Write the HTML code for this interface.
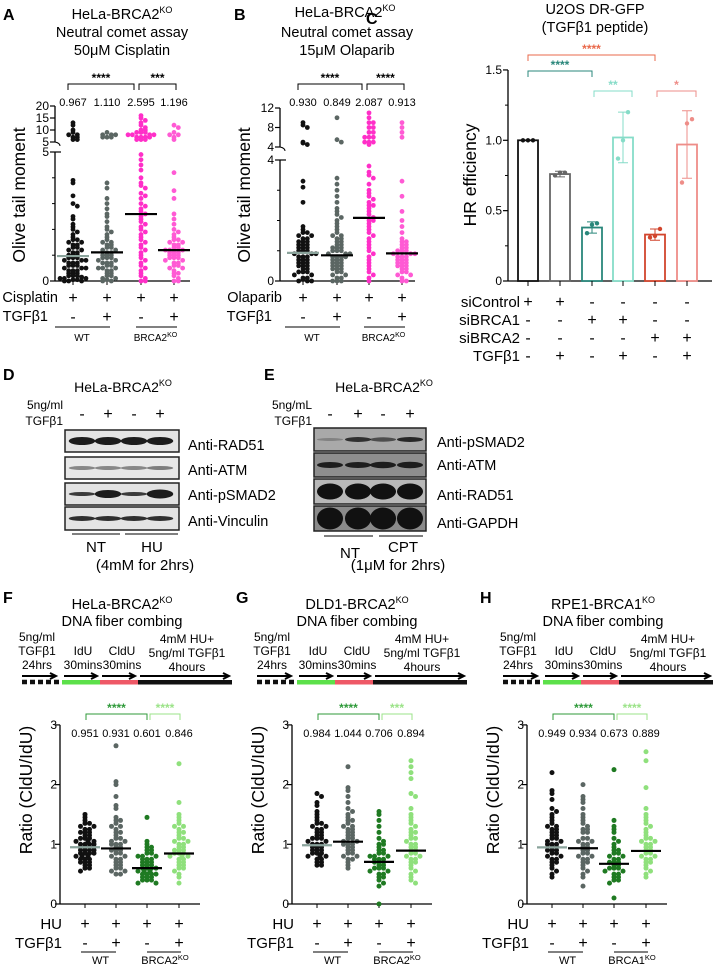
<!DOCTYPE html>
<html><head><meta charset="utf-8"><style>
html,body{margin:0;padding:0;background:#fff;}
svg{display:block;font-family:"Liberation Sans",Arial,sans-serif;}
</style></head><body>
<svg id="fig" width="715" height="968" viewBox="0 0 715 968" xmlns="http://www.w3.org/2000/svg">
<g font-weight="bold" font-size="16">
<text x="3" y="20">A</text>
<text x="234" y="20">B</text>
<text x="366" y="24">C</text>
<text x="3" y="380">D</text>
<text x="264" y="380">E</text>
<text x="3" y="603">F</text>
<text x="236" y="603">G</text>
<text x="480" y="603">H</text>
</g>
<g font-size="14.5" text-anchor="middle">
<text x="122" y="19">HeLa-BRCA2<tspan font-size="9" dy="-6">KO</tspan></text>
<text x="122" y="37">Neutral comet assay</text>
<text x="122" y="55">50μM Cisplatin</text>
<text x="345" y="17">HeLa-BRCA2<tspan font-size="9" dy="-6">KO</tspan></text>
<text x="347" y="37">Neutral comet assay</text>
<text x="347" y="55">15μM Olaparib</text>
<text x="595" y="14">U2OS DR-GFP</text>
<text x="595" y="32">(TGFβ1 peptide)</text>
<text x="122" y="609">HeLa-BRCA2<tspan font-size="9" dy="-6">KO</tspan></text>
<text x="122" y="626">DNA fiber combing</text>
<text x="357" y="609">DLD1-BRCA2<tspan font-size="9" dy="-6">KO</tspan></text>
<text x="357" y="626">DNA fiber combing</text>
<text x="603" y="609">RPE1-BRCA1<tspan font-size="9" dy="-6">KO</tspan></text>
<text x="603" y="626">DNA fiber combing</text>
</g>

<!-- Panel D blots -->
<g>
<text x="123" y="392" font-size="14" text-anchor="middle">HeLa-BRCA2<tspan font-size="9" dy="-6">KO</tspan></text>
<text x="63" y="409" font-size="12" text-anchor="end">5ng/ml</text>
<text x="63" y="425" font-size="12" text-anchor="end">TGFβ1</text>
<g font-size="16" text-anchor="middle">
<text x="82" y="419">-</text>
<text x="108" y="419">+</text>
<text x="134" y="419">-</text>
<text x="160" y="419">+</text>
</g>
<g id="blotD"></g>
<g font-size="14.5">
<text x="188" y="450">Anti-RAD51</text>
<text x="188" y="475">Anti-ATM</text>
<text x="188" y="500">Anti-pSMAD2</text>
<text x="188" y="526">Anti-Vinculin</text>
</g>
<line x1="72" y1="534" x2="120" y2="534" stroke="#000" stroke-width="1"/>
<line x1="125" y1="534" x2="178" y2="534" stroke="#000" stroke-width="1"/>
<text x="96" y="552" font-size="15" text-anchor="middle">NT</text>
<text x="152" y="552" font-size="15" text-anchor="middle">HU</text>
<text x="145" y="570" font-size="15" text-anchor="middle">(4mM for 2hrs)</text>
</g>

<!-- Panel E blots -->
<g>
<text x="384" y="392" font-size="14" text-anchor="middle">HeLa-BRCA2<tspan font-size="9" dy="-6">KO</tspan></text>
<text x="312" y="409" font-size="12" text-anchor="end">5ng/mL</text>
<text x="312" y="425" font-size="12" text-anchor="end">TGFβ1</text>
<g font-size="16" text-anchor="middle">
<text x="330" y="419">-</text>
<text x="358" y="419">+</text>
<text x="383" y="419">-</text>
<text x="410" y="419">+</text>
</g>
<g id="blotE"></g>
<g font-size="14.5">
<text x="437" y="447">Anti-pSMAD2</text>
<text x="437" y="470">Anti-ATM</text>
<text x="437" y="500">Anti-RAD51</text>
<text x="437" y="528">Anti-GAPDH</text>
</g>
<line x1="324" y1="536" x2="373" y2="536" stroke="#000" stroke-width="1"/>
<line x1="379" y1="536" x2="423" y2="536" stroke="#000" stroke-width="1"/>
<text x="350" y="558" font-size="15" text-anchor="middle">NT</text>
<text x="403" y="552" font-size="15" text-anchor="middle">CPT</text>
<text x="398" y="570" font-size="15" text-anchor="middle">(1μM for 2hrs)</text>
</g>

<g id="charts"></g>
</svg>
<script>
// ---------- DATA ----------
// Panel A (olive tail moment, cisplatin)
const aCategories = ["WT", "WT+TGFβ1", "BRCA2KO", "BRCA2KO+TGFβ1"];
const aMeans = [0.967, 1.110, 2.595, 1.196];
const aMeanLabels = ["0.967", "1.110", "2.595", "1.196"];
const aWT = [13,12,10,9,8,8,7,7,6,6,3.9,3.8,3.3,3.0,2.9,2.5,2.4,2.2,2.1,2.0,1.9,1.8,1.7,1.6,1.6,1.5,1.5,1.4,1.4,1.3,1.3,1.2,1.2,1.1,1.1,1.0,1.0,1.0,0.9,0.9,0.9,0.8,0.8,0.8,0.7,0.7,0.7,0.6,0.6,0.6,0.5,0.5,0.5,0.4,0.4,0.4,0.3,0.3,0.3,0.2,0.2,0.2,0.15,0.1,0.1,0.1,0.05,0.05,0,0,0];
const aWTT = [9,8,8,8,7,7,7,3.8,3.6,3.2,3.0,2.8,2.6,2.5,2.3,2.1,2.0,1.9,1.8,1.7,1.6,1.5,1.5,1.4,1.4,1.3,1.3,1.2,1.2,1.1,1.1,1.0,1.0,1.0,0.9,0.9,0.9,0.8,0.8,0.7,0.7,0.7,0.6,0.6,0.5,0.5,0.5,0.4,0.4,0.3,0.3,0.2,0.2,0.1,0.1,0.05,0,0];
const aKO = [16,15,14,13,12,11,10,10,9,9,9,8,8,8,8,7,7,7,7,6,6,6,4.9,4.7,4.5,4.3,4.0,3.8,3.7,3.6,3.4,3.3,3.2,3.0,2.9,2.8,2.7,2.6,2.5,2.4,2.3,2.2,2.1,2.0,1.9,1.8,1.7,1.6,1.5,1.4,1.3,1.2,1.1,1.0,0.9,0.8,0.7,0.6,0.5,0.4,0.3,0.2,0.1,0,0];
const aKOT = [12,11,9,8,8,7,6,4.2,3.5,3.2,2.6,2.4,2.2,2.0,1.9,1.8,1.7,1.6,1.6,1.5,1.5,1.4,1.4,1.3,1.3,1.2,1.2,1.2,1.1,1.1,1.1,1.0,1.0,1.0,0.9,0.9,0.9,0.8,0.8,0.7,0.7,0.6,0.6,0.5,0.5,0.4,0.3,0.3,0.2,0.1,0,0];
const aLowerTicks = [0, 5];
const aUpperTicks = [5, 10, 15, 20];
// Panel B (olive tail moment, olaparib)
const bMeans = [0.930, 0.849, 2.087, 0.913];
const bMeanLabels = ["0.930", "0.849", "2.087", "0.913"];
const bWT = [9,8.5,8,5,4.8,4.5,3.3,3.1,2.6,1.8,1.7,1.6,1.6,1.5,1.5,1.4,1.4,1.3,1.3,1.3,1.2,1.2,1.2,1.1,1.1,1.1,1.0,1.0,1.0,0.9,0.9,0.9,0.8,0.8,0.8,0.7,0.7,0.7,0.6,0.6,0.6,0.5,0.5,0.5,0.4,0.4,0.3,0.3,0.3,0.2,0.2,0.1,0.1,0.05,0,0,0];
const bWTT = [10,5.5,5,3.4,3.2,3.0,2.8,2.6,2.4,2.3,2.2,2.1,2.0,1.9,1.8,1.7,1.6,1.5,1.5,1.4,1.4,1.3,1.3,1.2,1.2,1.1,1.1,1.1,1.0,1.0,1.0,0.9,0.9,0.9,0.8,0.8,0.8,0.8,0.7,0.7,0.7,0.6,0.6,0.6,0.5,0.5,0.5,0.4,0.4,0.4,0.3,0.3,0.2,0.2,0.1,0.1,0,0,0];
const bKO = [11,10,9,9,8,8,7,7,6,6,6,5,5,5,4.5,3.8,3.6,3.5,3.4,3.2,3.0,2.9,2.8,2.7,2.6,2.5,2.5,2.4,2.3,2.2,2.1,2.0,2.0,1.9,1.8,1.7,1.6,1.5,1.4,1.3,1.2,1.1,1.0,0.9,0.8,0.7,0.6,0.5,0.4,0.3,0.2,0.1,0];
const bKOT = [9,8,7,6,3.3,2.8,2.3,2.0,1.8,1.6,1.4,1.3,1.3,1.2,1.2,1.1,1.1,1.0,1.0,1.0,0.9,0.9,0.9,0.8,0.8,0.8,0.7,0.7,0.7,0.6,0.6,0.6,0.5,0.5,0.5,0.4,0.4,0.3,0.3,0.2,0.2,0.1,0,0];
const bLowerTicks = [0, 4];
const bUpperTicks = [4, 8, 12];
// Panel C (HR efficiency)
const cMeans = [1.0, 0.76, 0.38, 1.02, 0.33, 0.97];
const cSD = [0.0, 0.02, 0.04, 0.18, 0.04, 0.24];
const cPoints = [[1,1,1],[0.75,0.77,0.77],[0.34,0.40,0.41],[0.87,1.0,1.2],[0.31,0.32,0.37],[0.70,1.12,1.15]];
const cTicks = [0, 0.5, 1.0, 1.5];
const cTickLabels = ["0", "0.5", "1.0", "1.5"];
const cRowLabels = ["siControl", "siBRCA1", "siBRCA2", "TGFβ1"];
const cRowSigns = [["+","+","-","-","-","-"],["-","-","+","+","-","-"],["-","-","-","-","+","+"],["-","+","-","+","-","+"]];
// Panels F, G, H (CldU/IdU ratio)
const fMeans = [0.951, 0.931, 0.601, 0.846];
const fMeanLabels = ["0.951", "0.931", "0.601", "0.846"];
const f1 = [1.5,1.45,1.4,1.35,1.35,1.3,1.3,1.25,1.25,1.2,1.2,1.2,1.15,1.15,1.1,1.1,1.1,1.05,1.05,1.05,1.0,1.0,1.0,1.0,0.95,0.95,0.95,0.95,0.9,0.9,0.9,0.9,0.85,0.85,0.85,0.85,0.8,0.8,0.8,0.75,0.75,0.75,0.7,0.7,0.7,0.65,0.65,0.6,0.6,0.55];
const f2 = [2.65,2.05,2.0,1.8,1.65,1.6,1.45,1.4,1.4,1.35,1.3,1.3,1.25,1.2,1.2,1.15,1.1,1.1,1.05,1.05,1.0,1.0,1.0,0.95,0.95,0.9,0.9,0.9,0.85,0.85,0.8,0.8,0.75,0.75,0.7,0.7,0.65,0.65,0.6,0.6,0.55,0.55,0.5,0.5];
const f3 = [1.45,1.05,1.0,0.95,0.95,0.9,0.9,0.85,0.85,0.8,0.8,0.8,0.75,0.75,0.75,0.7,0.7,0.7,0.65,0.65,0.65,0.6,0.6,0.6,0.6,0.55,0.55,0.55,0.5,0.5,0.5,0.5,0.45,0.45,0.45,0.4,0.4,0.4,0.35,0.35];
const f4 = [2.35,1.7,1.5,1.45,1.4,1.35,1.3,1.3,1.25,1.2,1.2,1.15,1.1,1.1,1.05,1.05,1.0,1.0,0.95,0.95,0.9,0.9,0.9,0.85,0.85,0.85,0.8,0.8,0.8,0.75,0.75,0.7,0.7,0.65,0.65,0.6,0.6,0.55,0.5,0.45,0.35];
const gMeans = [0.984, 1.044, 0.706, 0.894];
const gMeanLabels = ["0.984", "1.044", "0.706", "0.894"];
const g1 = [1.85,1.8,1.7,1.65,1.55,1.5,1.45,1.4,1.35,1.35,1.3,1.3,1.25,1.25,1.2,1.2,1.15,1.15,1.1,1.1,1.1,1.05,1.05,1.0,1.0,1.0,0.95,0.95,0.95,0.9,0.9,0.9,0.85,0.85,0.85,0.8,0.8,0.8,0.75,0.75,0.7,0.7,0.65,0.65];
const g2 = [2.3,1.95,1.9,1.8,1.7,1.6,1.55,1.5,1.45,1.4,1.4,1.35,1.3,1.3,1.25,1.25,1.2,1.2,1.15,1.15,1.1,1.1,1.05,1.05,1.0,1.0,1.0,0.95,0.95,0.9,0.9,0.85,0.85,0.8,0.8,0.75,0.75,0.7,0.65,0.6];
const g3 = [1.55,1.5,1.4,1.3,1.2,1.1,1.05,1.0,1.0,0.95,0.9,0.9,0.85,0.85,0.8,0.8,0.8,0.75,0.75,0.75,0.7,0.7,0.7,0.65,0.65,0.6,0.6,0.6,0.55,0.55,0.5,0.5,0.45,0.45,0.4,0.35,0.3,0.0];
const g4 = [2.4,2.3,2.2,2.1,1.85,1.8,1.6,1.5,1.45,1.4,1.35,1.3,1.25,1.2,1.2,1.15,1.1,1.1,1.05,1.0,1.0,0.95,0.95,0.9,0.9,0.85,0.85,0.8,0.8,0.75,0.75,0.7,0.7,0.65,0.6,0.55,0.5,0.45,0.4,0.35];
const hMeans = [0.949, 0.934, 0.673, 0.889];
const hMeanLabels = ["0.949", "0.934", "0.673", "0.889"];
const h1 = [2.2,1.9,1.85,1.75,1.6,1.55,1.5,1.45,1.4,1.35,1.3,1.3,1.25,1.25,1.2,1.2,1.15,1.15,1.1,1.1,1.05,1.05,1.0,1.0,1.0,0.95,0.95,0.9,0.9,0.9,0.85,0.85,0.8,0.8,0.75,0.75,0.7,0.7,0.65,0.6,0.55,0.5,0.45];
const h2 = [2.0,1.8,1.75,1.7,1.6,1.5,1.45,1.4,1.35,1.3,1.25,1.25,1.2,1.2,1.1,1.1,1.05,1.05,1.0,1.0,0.95,0.95,0.9,0.9,0.85,0.85,0.8,0.8,0.75,0.75,0.7,0.7,0.65,0.6,0.55,0.5,0.45,0.3];
const h3 = [2.25,1.4,1.3,1.25,1.2,1.1,1.05,1.0,0.95,0.9,0.9,0.85,0.85,0.8,0.8,0.75,0.75,0.7,0.7,0.7,0.65,0.65,0.6,0.6,0.6,0.55,0.55,0.5,0.5,0.45,0.45,0.4,0.4,0.35,0.1];
const h4 = [2.55,2.4,1.95,1.6,1.5,1.45,1.4,1.35,1.3,1.25,1.2,1.15,1.1,1.1,1.05,1.05,1.0,1.0,0.95,0.95,0.9,0.9,0.85,0.85,0.8,0.8,0.75,0.75,0.7,0.7,0.65,0.6,0.55,0.5,0.45];
const fiberTicks = [0, 1, 2, 3];

// ---------- DRAWING ----------
const NS = "http://www.w3.org/2000/svg";
const root = document.getElementById("charts");
function mk(tag, attrs, parent) {
  const e = document.createElementNS(NS, tag);
  for (const k in attrs) e.setAttribute(k, attrs[k]);
  (parent || root).appendChild(e);
  return e;
}
function txt(x, y, s, size, anchor, parent, fill) {
  const t = mk("text", {x: x, y: y, "font-size": size, "text-anchor": anchor || "middle", fill: fill || "#000"}, parent);
  t.textContent = s;
  return t;
}
function line(x1, y1, x2, y2, stroke, w, parent) {
  return mk("line", {x1: x1, y1: y1, x2: x2, y2: y2, stroke: stroke || "#000", "stroke-width": w || 1}, parent);
}
function swarm(vals, cx, yfn, half, r, color, parent) {
  const bins = {};
  vals.forEach(v => {
    const y = yfn(v);
    const b = Math.round(y / (r * 1.5));
    const k = bins[b] || 0;
    bins[b] = k + 1;
    let off = k === 0 ? 0 : Math.ceil(k / 2) * r * 1.8 * (k % 2 ? 1 : -1);
    if (Math.abs(off) > half) off = Math.sign(off) * ((Math.abs(off) % half) + r);
    const c = mk("circle", {cx: cx + off, cy: y, r: r, fill: color}, parent);
    
    
  });
}
function bracket(x1, x2, y, stars, color, parent) {
  const p = mk("path", {d: `M${x1},${y + 6}V${y}H${x2}V${y + 6}`, fill: "none", stroke: color, "stroke-width": 1}, parent);
  
  
  const t = txt((x1 + x2) / 2, y - 2, stars, 12, "middle", parent, color);
  t.setAttribute('font-weight', 'bold');
  
  
}

// ---- comet panels A,B ----
function comet(cfg) {
  const g = mk("g", {});
  
  
  const yfn = v => v <= cfg.brk ? cfg.y0 - v * cfg.lowK : cfg.uBase - (v - cfg.brk) * cfg.upK;
  const ax1 = line(cfg.ax, cfg.y0, cfg.ax, yfn(cfg.brk), "#000", 1.3, g);
  
  
  const ax2 = line(cfg.ax, cfg.uBase, cfg.ax, yfn(cfg.upperTicks[cfg.upperTicks.length - 1]), "#000", 1.3, g);
  
  
  const xa = line(cfg.ax, cfg.y0, cfg.ax + 135, cfg.y0, "#000", 1.3, g);
  
  
  for (let v = 1; v < cfg.brk; v++) { const m = line(cfg.ax - 3, yfn(v), cfg.ax, yfn(v), "#000", 1, g);   }
  cfg.lowerTicks.forEach(v => {
    const tk = line(cfg.ax - 5, yfn(v), cfg.ax + (v === cfg.brk ? 6 : 0), yfn(v), "#000", 1.2, g);
    
    
    const tl = txt(cfg.ax - 6, yfn(v) + 4, String(v), 12, "end", g);
    
    
  });
  cfg.upperTicks.forEach((v, i) => {
    const y = i === 0 ? cfg.uBase : yfn(v);
    const tk = line(cfg.ax - 5, y, cfg.ax, y, "#000", 1.2, g);
    
    
    const tl = txt(cfg.ax - 6, y + 4, String(v), 12, "end", g);
    
    
  });
  const bk = mk("path", {d: `M${cfg.ax},${cfg.uBase}q5,1 5,4`, stroke: "#000", fill: "none"}, g);
  
  
  const yt = txt(0, 0, "Olive tail moment", 17.5, "middle", g);
  yt.setAttribute("transform", `translate(${cfg.ax - 30},195) rotate(-90)`);
  
  
  cfg.series.forEach((s, i) => {
    const x = cfg.xs[i];
    const tk = line(x, cfg.y0, x, cfg.y0 + 4, "#000", 1, g);
    
    
    swarm(s, x, yfn, 14, 2.4, cfg.colors[i], g);
    const ml = line(x - 16, yfn(cfg.means[i]), x + 16, yfn(cfg.means[i]), i === 0 ? "#8aa39b" : "#000", 2.2, g);
    
    
    const lb = txt(x, 106, cfg.meanLabels[i], 11, "middle", g);
    
    
    const s1 = txt(x, 303, "+", 16, "middle", g);
    
    
    const s2 = txt(x, 322, i % 2 ? "+" : "-", 16, "middle", g);
    
    
  });
  const r1 = txt(cfg.labelEnd, 302, cfg.drug, 14.5, "end", g);
  
  
  const r2 = txt(cfg.labelEnd - 10, 321, "TGFβ1", 14.5, "end", g);
  
  
  const l1 = line(cfg.xs[0] - 18, 327, cfg.xs[1] + 3, 327, "#000", 1, g);
  
  
  const l2 = line(cfg.xs[2] - 5, 327, cfg.xs[3] + 3, 327, "#000", 1, g);
  
  
  const w = txt((cfg.xs[0] + cfg.xs[1]) / 2 - 8, 341, "WT", 10, "middle", g);
  
  
  const k = txt((cfg.xs[2] + cfg.xs[3]) / 2 - 2, 341, "BRCA2", 10, "middle", g);
  const ks = mk("tspan", {"font-size": 7, dy: -4}, k); ks.textContent = "KO";
  
  
  bracket(cfg.xs[0] - 5, cfg.xs[2] - 7, 84, "****", "#000", g);
  bracket(cfg.xs[2] - 2, cfg.xs[3] + 2, 84, cfg.star2, "#000", g);
}
comet({name: "panel-a-comet-cisplatin", ax: 55, y0: 281, brk: 5, lowK: 25.8, uBase: 142, upK: 2.4,
  lowerTicks: aLowerTicks, upperTicks: aUpperTicks, xs: [73, 107, 141, 174],
  series: [aWT, aWTT, aKO, aKOT], means: aMeans, meanLabels: aMeanLabels,
  colors: ["#111", "#5b6663", "#ff2fc8", "#ff5ad4"], drug: "Cisplatin", star2: "***", labelEnd: 58});
comet({name: "panel-b-comet-olaparib", ax: 280, y0: 281, brk: 4, lowK: 30.25, uBase: 147, upK: 4.875,
  lowerTicks: bLowerTicks, upperTicks: bUpperTicks, xs: [303, 337, 369, 402],
  series: [bWT, bWTT, bKO, bKOT], means: bMeans, meanLabels: bMeanLabels,
  colors: ["#111", "#5b6663", "#ff2fc8", "#ff5ad4"], drug: "Olaparib", star2: "****", labelEnd: 282});

// ---- panel C ----
(function () {
  const g = mk("g", {});
  
  
  const ax = 508, y0 = 281, k = 140.7;
  const yfn = v => y0 - v * k;
  const xs = [528, 560, 592, 623, 655, 687];
  const cols = ["#111", "#666", "#2a877b", "#86dcc8", "#d2452d", "#ee8d88"];
  const a1 = line(ax, y0, ax, yfn(1.5), "#000", 1.3, g);
  
  
  const a2 = line(ax, y0, 712, y0, "#000", 1.3, g);
  
  
  for (let v = 0.25; v < 1.5; v += 0.5) { const m = line(ax - 3, yfn(v), ax, yfn(v), "#000", 1, g);   }
  cTicks.forEach((v, i) => {
    const t = line(ax - 5, yfn(v), ax, yfn(v), "#000", 1.2, g);
    
    
    const l = txt(ax - 6, yfn(v) + 4, cTickLabels[i], 12, "end", g);
    
    
  });
  const yt = txt(0, 0, "HR efficiency", 17.5, "middle", g);
  yt.setAttribute("transform", "translate(476,175) rotate(-90)");
  
  
  cMeans.forEach((m, i) => {
    const x = xs[i];
    const b = mk("rect", {x: x - 10, y: yfn(m), width: 20, height: y0 - yfn(m), fill: "#fff", stroke: cols[i], "stroke-width": 1.8}, g);
    
    
    const tk = line(x, y0, x, y0 + 5, "#000", 1, g);
    
    
    if (cSD[i] > 0) {
      const e = mk("path", {d: `M${x - 5},${yfn(m + cSD[i])}H${x + 5}M${x},${yfn(m + cSD[i])}V${yfn(m - cSD[i])}M${x - 5},${yfn(m - cSD[i])}H${x + 5}`, stroke: cols[i], fill: "none", "stroke-width": 1}, g);
      
      
    }
    cPoints[i].forEach((p, j) => {
      const c = mk("circle", {cx: x + (j - 1) * 5, cy: yfn(p), r: 2.2, fill: cols[i]}, g);
      
      
    });
  });
  cRowLabels.forEach((lab, r) => {
    const y = 307 + r * 18;
    const t = txt(520, y, lab, 15, "end", g);
    
    
    cRowSigns[r].forEach((s, i) => {
      const st = txt(xs[i], y, s, 16, "middle", g);
      
      
    });
  });
  bracket(xs[0], xs[4], 55, "****", "#e9694b", g);
  bracket(xs[0], xs[2], 71, "****", "#2a877b", g);
  bracket(xs[2] + 2, xs[3] + 9, 91, "**", "#86dcc8", g);
  bracket(xs[4] + 2, xs[5] + 9, 91, "*", "#ee8d88", g);
})();

// ---- Blots ----
function blot(id, x0, x1, rows, lanes) {
  const g = document.getElementById(id);
  rows.forEach(r => {
    const bx = mk("rect", {x: x0, y: r.y, width: x1 - x0, height: r.h, fill: r.bg, stroke: "#222", "stroke-width": 1.5}, g);
    
    
    lanes.forEach((lx, i) => {
      const bh = r.bands[i];
      const e = mk("ellipse", {cx: lx, cy: r.y + r.h / 2, rx: (x1 - x0) / 8.6, ry: bh, fill: "#111", opacity: r.op[i]}, g);
      
      
    });
  });
}
blot("blotD", 65, 179, [
  {y: 430, h: 22, bg: "#e4e4e4", bands: [4, 4, 4, 4], op: [0.95, 0.95, 0.95, 0.95]},
  {y: 457, h: 22, bg: "#e8e8e8", bands: [2, 2, 2, 2], op: [0.45, 0.45, 0.45, 0.5]},
  {y: 483, h: 22, bg: "#e2e2e2", bands: [2, 4, 2, 4.5], op: [0.8, 0.95, 0.8, 0.95]},
  {y: 507, h: 23, bg: "#e4e4e4", bands: [2.5, 2.5, 2.5, 2.5], op: [0.85, 0.85, 0.85, 0.85]}
], [82, 108, 134, 160]);
blot("blotE", 314, 426, [
  {y: 428, h: 23, bg: "#a9a9a9", bands: [1.5, 2.5, 2.2, 2.5], op: [0.25, 0.8, 0.6, 0.85]},
  {y: 453, h: 24, bg: "#8e8e8e", bands: [3, 3, 3.2, 3.2], op: [0.9, 0.9, 0.9, 0.9]},
  {y: 479, h: 25, bg: "#b8b8b8", bands: [8, 8, 8, 8], op: [1, 1, 1, 1]},
  {y: 506, h: 25, bg: "#8a8a8a", bands: [11, 11, 11, 11], op: [1, 1, 1, 1]}
], [330, 358, 383, 410]);

// ---- Fiber panels ----
function fiber(cfg) {
  const g = mk("g", {});
  
  
  const d = cfg.dx, p = cfg.px;
  const txts = [[37, 641, "5ng/ml"], [37, 655, "TGFβ1"], [37, 669, "24hrs"], [83, 655, "IdU"], [83, 669, "30mins"],
    [122, 655, "CldU"], [122, 669, "30mins"], [187, 643, "4mM HU+"], [187, 657, "5ng/ml TGFβ1"], [187, 671, "4hours"]];
  txts.forEach(t => { const e = txt(t[0] + d, t[1], t[2], 12, "middle", g);   });
  const segs = [[62, 100, "#5ce04a"], [100, 138, "#ee5866"], [138, 232, "#111"]];
  segs.forEach(s => { const r = mk("rect", {x: s[0] + d, y: 680, width: s[1] - s[0], height: 4.5, fill: s[2]}, g);   });
  const dot = line(22 + d, 682, 60 + d, 682, "#111", 4.5, g);
  dot.setAttribute('stroke-dasharray', '5 3');
  
  
  [[22, 56], [64, 97], [102, 135], [140, 229]].forEach(a => {
    const ar = mk("path", {d: `M${a[0] + d},676H${a[1] + d}M${a[1] - 6 + d},673L${a[1] + d},676L${a[1] - 6 + d},679`, stroke: "#000", "stroke-width": 2, fill: "none"}, g);
    
    
  });
  const ax = 60 + p, y0 = 904, k = 59.7;
  const yfn = v => y0 - v * k;
  const xs = [85 + p, 116 + p, 147 + p, 179 + p];
  const a1 = line(ax, y0, ax, yfn(3), "#000", 1.3, g);
  
  
  const a2 = line(ax, y0, ax + 140, y0, "#000", 1.3, g);
  
  
  fiberTicks.forEach(v => {
    const t = line(ax - 5, yfn(v), ax, yfn(v), "#000", 1.2, g);
    
    
    const l = txt(ax - 3, yfn(v) + 4, String(v), 12, "end", g);
    
    
  });
  const yt = txt(0, 0, "Ratio (CldU/IdU)", 17.5, "middle", g);
  yt.setAttribute("transform", `translate(${ax - 28},790) rotate(-90)`);
  
  
  cfg.series.forEach((s, i) => {
    const x = xs[i];
    const tk = line(x, y0, x, y0 + 4, "#000", 1, g);
    
    
    swarm(s, x, yfn, 13, 2.5, cfg.colors[i], g);
    const ml = line(x - 15, yfn(cfg.means[i]), x + 15, yfn(cfg.means[i]), i === 0 ? "#8aa39b" : "#000", 2.2, g);
    
    
    const lb = txt(x, 737, cfg.meanLabels[i], 11, "middle", g);
    
    
    const s1 = txt(x, 929, "+", 16, "middle", g);
    
    
    const s2 = txt(x, 948, i % 2 ? "+" : "-", 16, "middle", g);
    
    
  });
  const r1 = txt(ax + 2, 929, "HU", 15, "end", g);
  
  
  const r2 = txt(ax + 2, 948, "TGFβ1", 15, "end", g);
  
  
  const l1 = line(xs[0] - 4, 952, xs[1], 952, "#000", 1, g);
  
  
  const l2 = line(xs[2], 952, xs[3] + 2, 952, "#000", 1, g);
  
  
  const w = txt((xs[0] + xs[1]) / 2, 964, "WT", 11, "middle", g);
  
  
  const kk = txt((xs[2] + xs[3]) / 2 + 2, 964, cfg.ko, 11, "middle", g);
  const ks = mk("tspan", {"font-size": 7.5, dy: -4}, kk); ks.textContent = "KO";
  
  
  bracket(xs[0] + 1, xs[2], 714, "****", "#2f9a3a", g);
  bracket(xs[2] + 3, xs[3] + 1, 714, cfg.star2, "#9be388", g);
}
const fibCols = ["#111", "#5b6663", "#1f7a22", "#8fe07c"];
fiber({name: "panel-f-fiber-hela", dx: 0, px: 0, series: [f1, f2, f3, f4], means: fMeans, meanLabels: fMeanLabels, colors: fibCols, ko: "BRCA2", star2: "****"});
fiber({name: "panel-g-fiber-dld1", dx: 235, px: 232, series: [g1, g2, g3, g4], means: gMeans, meanLabels: gMeanLabels, colors: fibCols, ko: "BRCA2", star2: "***"});
fiber({name: "panel-h-fiber-rpe1", dx: 481, px: 467, series: [h1, h2, h3, h4], means: hMeans, meanLabels: hMeanLabels, colors: fibCols, ko: "BRCA1", star2: "****"});
</script>
</body></html>
